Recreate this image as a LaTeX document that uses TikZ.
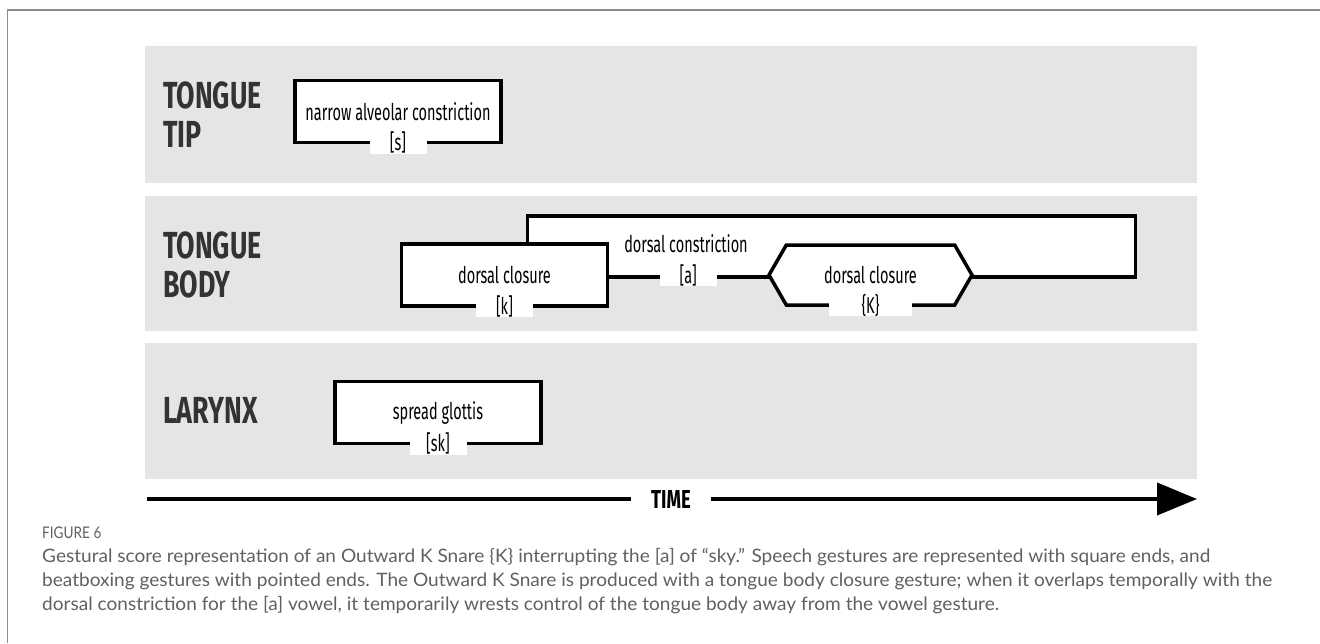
\documentclass[tikz,border=0pt]{standalone}
\usepackage{fontspec}
\usetikzlibrary{positioning,calc,shapes.symbols,arrows.meta}
\setmainfont{Fira Sans}
\newfontfamily\gestfont[FakeStretch=0.63]{Fira Sans}
\newfontfamily\tierfont[FakeStretch=0.71]{Fira Sans}
\newfontfamily\capfont[FakeStretch=1.03]{Lato}
\newfontfamily\fignofont[FakeStretch=0.85]{Lato}
\definecolor{bandgray}{HTML}{E5E5E5}
\definecolor{tiergray}{HTML}{333333}
\definecolor{capgray}{HTML}{606060}
\definecolor{framegray}{HTML}{8C8C8C}
\tikzset{
  tier/.style={anchor=west,align=left,inner sep=0pt,text=tiergray,
    font=\tierfont\bfseries\fontsize{37.7}{39}\selectfont},
  gesture/.style={draw,line width=3.5pt,fill=white,outer sep=0pt,inner sep=0pt,
    minimum width=206pt,minimum height=62pt,font=\gestfont\fontsize{23}{25}\selectfont},
  seg/.style={fill=white,inner sep=0pt,minimum width=57pt,minimum height=22pt,
    font=\gestfont\fontsize{23}{25}\selectfont},
  captext/.style={anchor=base west,inner sep=0pt,text=capgray,
    font=\capfont\fontsize{18.5}{24}\selectfont}
}
\begin{document}
\begin{tikzpicture}[x=1pt,y=-1pt]
\useasboundingbox (0,0) rectangle (1320,643);
% frame
\draw[framegray,line width=1.5pt] (7.5,643) -- (7.5,10) -- (1320,10);
% tiers
\fill[bandgray] (145,46) rectangle (1197,183);
\fill[bandgray] (145,196) rectangle (1197,331);
\fill[bandgray] (145,343) rectangle (1197,479);
\node[tier] (tipname) at (163,115) {TONGUE\\TIP};
\node[tier] (bodyname) at (163,265) {TONGUE\\BODY};
\node[tier] (larname) at (163,410) {LARYNX};
% tongue tip
\node[gesture] (sbox) at (398,111.5) {narrow alveolar constriction};
\node[seg] (slab) at (sbox.south) {[s]};
% tongue body
\node[gesture,minimum width=608pt,minimum height=61pt] (cbox) at (831.4,246.4) {};
\node[gesture] (kbox) at (504.5,275) {dorsal closure};
\node[gesture,signal,signal to=west and east,signal pointer angle=120,
  minimum width=203pt,minimum height=60pt] (Kbox) at (870.5,275) {dorsal closure};
\node[seg] (klab) at (kbox.south) {[k]};
\node[seg,minimum width=83pt] (Klab) at (Kbox.south) {\{K\}};
\node[seg] (alab) at ($(kbox.east)!0.5!(Kbox.west)$) {[a]};
\node[font=\gestfont\fontsize{23}{25}\selectfont,inner sep=0pt] (ctext) at (686,244) {dorsal constriction};
% larynx
\node[gesture] (skbox) at (438,412.5) {spread glottis};
\node[seg] (sklab) at (skbox.south) {[sk]};
% time axis
\coordinate (tstart) at (147,499);
\coordinate (tend) at (1197,499);
\draw[line width=4pt,-{Triangle[length=40pt,width=32pt]}] (tstart) -- (tend);
\node[fill=white,inner xsep=20pt,inner ysep=2pt,font=\tierfont\bfseries\fontsize{26}{28}\selectfont] (time) at (671,499) {TIME};
% caption
\node[anchor=base west,inner sep=0pt,text=capgray,font=\fignofont\fontsize{16}{18}\selectfont] (figno) at (42,538) {FIGURE 6};
\node[captext] (cap1) at (42,562) {Gestural score representation of an Outward K Snare \{K\} interrupting the [a] of “sky.” Speech gestures are represented with square ends, and};
\node[captext] (cap2) at (42,586) {beatboxing gestures with pointed ends. The Outward K Snare is produced with a tongue body closure gesture; when it overlaps temporally with the};
\node[captext] (cap3) at (42,610) {dorsal constriction for the [a] vowel, it temporarily wrests control of the tongue body away from the vowel gesture.};
\end{tikzpicture}
\end{document}
